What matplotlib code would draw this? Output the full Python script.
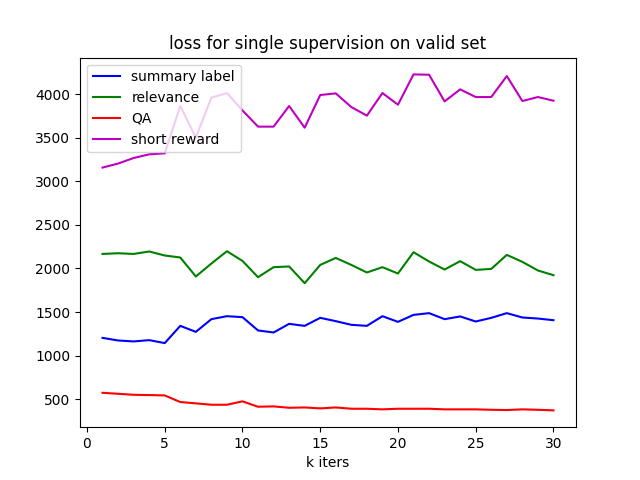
#!/usr/bin/env python3
import matplotlib
matplotlib.use("Agg")
import matplotlib.pyplot as plt

k_iters = list(range(1, 31))

summary_label = [1203, 1173, 1162, 1177, 1143, 1341, 1272, 1418, 1452, 1441,
                 1288, 1265, 1364, 1341, 1433, 1395, 1353, 1341, 1452, 1387,
                 1467, 1487, 1418, 1449, 1391, 1433, 1487, 1437, 1425, 1406]
relevance = [2167, 2175, 2167, 2195, 2149, 2126, 1908, 2057, 2198, 2087,
             1900, 2015, 2023, 1831, 2041, 2121, 2041, 1954, 2015, 1942,
             2187, 2080, 1988, 2084, 1984, 1995, 2156, 2076, 1977, 1923]
qa = [572, 561, 549, 546, 542, 466, 451, 435, 435, 474,
      412, 416, 400, 404, 393, 404, 389, 389, 382, 389,
      389, 389, 382, 382, 382, 377, 374, 382, 377, 370]
short_reward = [3159, 3205, 3269, 3311, 3323, 3866, 3503, 3962, 4015, 3815,
                3629, 3629, 3866, 3617, 3992, 4011, 3854, 3755, 4015, 3881,
                4229, 4225, 3919, 4057, 3969, 3969, 4210, 3923, 3969, 3927]

fig, ax = plt.subplots(figsize=(6.4, 4.8), dpi=100)
ax.plot(k_iters, summary_label, color="b", label="summary label")
ax.plot(k_iters, relevance, color="g", label="relevance")
ax.plot(k_iters, qa, color="r", label="QA")
ax.plot(k_iters, short_reward, color="m", label="short reward")

ax.set_title("loss for single supervision on valid set")
ax.set_xlabel("k iters")
ax.legend(loc="upper left")

fig.savefig("out.png", dpi=100)
